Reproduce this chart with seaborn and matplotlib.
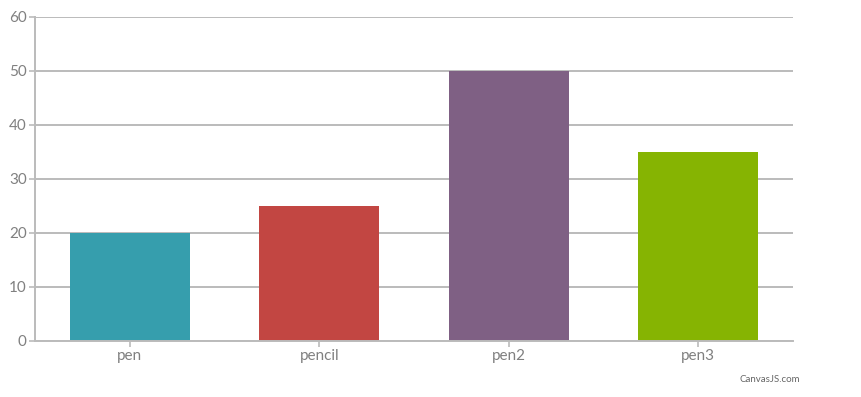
import matplotlib
matplotlib.use("Agg")
import matplotlib.pyplot as plt
import seaborn as sns
import pandas as pd

categories = ["pen", "pencil", "pen2", "pen3"]
values = [20, 25, 50, 35]
colors = ["#369EAD", "#C24642", "#7F6084", "#86B402"]
y_ticks = [0, 10, 20, 30, 40, 50, 60]

sns.set_theme(style="white")
plt.rcParams['font.family'] = ['Lato', 'DejaVu Sans']

df = pd.DataFrame({"cat": categories, "val": values})

W, H = 861, 397
fig = plt.figure(figsize=(W / 100, H / 100), dpi=100)
ax = fig.add_axes([35 / W, (H - 341) / H, (793 - 35) / W, (341 - 17) / H])

sns.barplot(data=df, x="cat", y="val", hue="cat", palette=colors, legend=False,
            width=120 / 189.5, saturation=1, ax=ax, zorder=3,
            linewidth=0, edgecolor="none")

grid_c = "#BBBBBB"
ax.set_xlim(-0.5, 3.5)
ax.set_ylim(0, 60)
ax.set_yticks(y_ticks)
ax.yaxis.grid(True, color=grid_c, linewidth=1.4, zorder=0)
ax.set_axisbelow(True)
for s in ["top", "right"]:
    ax.spines[s].set_visible(False)
ax.spines["left"].set_color(grid_c)
ax.spines["left"].set_linewidth(1.4)
ax.spines["bottom"].set_color(grid_c)
ax.spines["bottom"].set_linewidth(1.4)
ax.spines["bottom"].set_zorder(4)
ax.tick_params(axis="both", colors=grid_c, labelcolor="#808080", labelsize=11,
               length=4, width=1.2, direction="out", pad=2, left=True, bottom=True)
ax.set_xlabel("")
ax.set_ylabel("")

fig.text(800 / W, 1 - 380 / H, "CanvasJS.com", ha="right", va="center",
         fontsize=7, color="#666666")

fig.savefig("out.png", dpi=100)
